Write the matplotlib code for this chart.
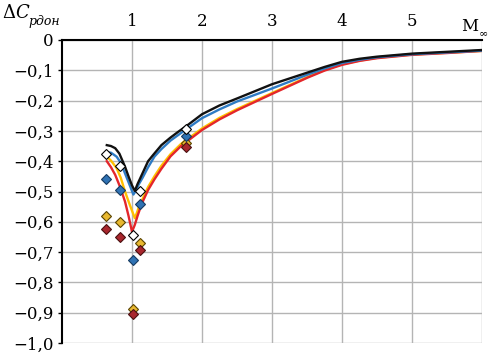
import numpy as np
import matplotlib
matplotlib.use("Agg")
import matplotlib.pyplot as plt

# --- curves: pressure-coefficient increment vs Mach number ---
mach_black = [0.64, 0.70, 0.76, 0.82, 0.90, 0.95, 1.00, 1.04, 1.08, 1.15, 1.23, 1.30, 1.42, 1.55, 1.66, 1.80,
              2.0, 2.25, 2.5, 3.0, 3.5, 3.75, 4.0, 4.25, 4.5, 5.0, 5.5, 6.0]
dcp_black = [-0.347, -0.350, -0.357, -0.375, -0.418, -0.45, -0.48, -0.498, -0.475, -0.44, -0.40, -0.38,
             -0.347, -0.322, -0.303, -0.28, -0.245, -0.216, -0.193, -0.146, -0.108, -0.089, -0.072,
             -0.062, -0.055, -0.045, -0.039, -0.033]

mach_blue = [0.64, 0.70, 0.78, 0.84, 0.90, 0.96, 1.02, 1.06, 1.10, 1.15, 1.23, 1.32, 1.42, 1.55, 1.70,
             2.0, 2.25, 2.5, 3.0, 3.5, 3.75, 4.0, 4.25, 4.5, 5.0, 5.5, 6.0]
dcp_blue = [-0.37, -0.372, -0.385, -0.405, -0.44, -0.475, -0.51, -0.495, -0.475, -0.455, -0.42, -0.385,
            -0.36, -0.332, -0.307, -0.258, -0.229, -0.203, -0.16, -0.115, -0.094, -0.076, -0.065,
            -0.057, -0.047, -0.041, -0.035]

mach_yellow = [0.64, 0.70, 0.78, 0.84, 0.90, 0.97, 1.04, 1.07, 1.10, 1.15, 1.23, 1.32, 1.42, 1.55, 1.70,
               2.0, 2.25, 2.5, 3.0, 3.5, 3.75, 4.0, 4.25, 4.5, 5.0, 5.5, 6.0]
dcp_yellow = [-0.385, -0.398, -0.423, -0.455, -0.50, -0.545, -0.588, -0.57, -0.55, -0.525, -0.485, -0.45,
              -0.415, -0.377, -0.343, -0.292, -0.257, -0.228, -0.175, -0.123, -0.099, -0.080, -0.068,
              -0.059, -0.048, -0.042, -0.036]

mach_red = [0.64, 0.70, 0.76, 0.83, 0.90, 0.95, 1.00, 1.04, 1.08, 1.14, 1.23, 1.32, 1.42, 1.55, 1.70,
            2.0, 2.25, 2.5, 3.0, 3.5, 3.75, 4.0, 4.25, 4.5, 5.0, 5.5, 6.0]
dcp_red = [-0.40, -0.42, -0.445, -0.485, -0.533, -0.58, -0.633, -0.61, -0.58, -0.54, -0.495, -0.46,
           -0.425, -0.384, -0.35, -0.297, -0.262, -0.232, -0.178, -0.125, -0.101, -0.082, -0.069,
           -0.060, -0.049, -0.043, -0.036]

# --- experimental points ---
mach_pts = [0.63, 0.83, 1.01, 1.11, 1.77]
pts_white = [-0.376, -0.415, -0.645, -0.498, -0.295]
pts_blue = [-0.46, -0.495, -0.725, -0.54, -0.317]
pts_yellow = [-0.58, -0.60, -0.888, -0.67, -0.34]
pts_red = [-0.625, -0.65, -0.903, -0.693, -0.352]

xticks = [1, 2, 3, 4, 5, 6]
xticklabels = ['1', '2', '3', '4', '5', '']
yticks = np.round(np.arange(0, -1.01, -0.1), 1)
yticklabels = ['0'] + ['\u2212' + f'{abs(v):.1f}'.replace('.', ',') for v in yticks[1:]]

W, H = 493, 355
plt.rcParams['font.family'] = ['DejaVu Serif']
fig = plt.figure(figsize=(W / 100, H / 100), dpi=100)
ax = fig.add_axes([62 / W, 12 / H, 420 / W, 303 / H])

ax.plot(mach_yellow, dcp_yellow, color='#ffc000', lw=1.7, zorder=3, solid_joinstyle='round')
ax.plot(mach_red, dcp_red, color='#e3262b', lw=1.7, zorder=3, solid_joinstyle='round')
ax.plot(mach_blue, dcp_blue, color='#2e7bc4', lw=1.7, zorder=4, solid_joinstyle='round')
ax.plot(mach_black, dcp_black, color='#111111', lw=1.7, zorder=5, solid_joinstyle='round')

mk = dict(marker='D', ms=5, ls='none', mew=0.8, zorder=6)
ax.plot(mach_pts, pts_yellow, mfc='#e8b830', mec='#5a4300', **mk)
ax.plot(mach_pts, pts_red, mfc='#a8262d', mec='#4a1010', **mk)
ax.plot(mach_pts, pts_blue, mfc='#2f72b3', mec='#163a60', **mk)
ax.plot(mach_pts, pts_white, mfc='white', mec='black', **mk)

ax.set_xlim(0, 6)
ax.set_ylim(-1.0, 0)
ax.xaxis.tick_top()
ax.set_xticks(xticks)
ax.set_xticklabels(xticklabels, fontsize=12)
ax.set_yticks(yticks)
ax.set_yticklabels(yticklabels, fontsize=12)
ax.tick_params(axis='both', direction='out', length=3, width=1, pad=3)
ax.tick_params(axis='x', length=0, pad=7)
ax.grid(True, color='#b4b4b4', lw=1.0, zorder=0)
ax.set_axisbelow(True)
for s in ['right', 'bottom']:
    ax.spines[s].set_visible(False)
for s in ['left', 'top']:
    ax.spines[s].set_linewidth(1.5)
    ax.spines[s].set_zorder(7)

# axis labels
fig.text(2 / W, 1 - 18 / H, '\u0394', fontsize=13)
fig.text(15 / W, 1 - 18 / H, 'C', fontsize=13, style='italic')
fig.text(28 / W, 1 - 25 / H, 'рдон', fontsize=9, style='italic')
fig.text(461 / W, 1 - 31 / H, 'M', fontsize=12)
fig.text(479 / W, 1 - 36 / H, '\u221e', fontsize=8)

fig.savefig('out.png', dpi=100)
